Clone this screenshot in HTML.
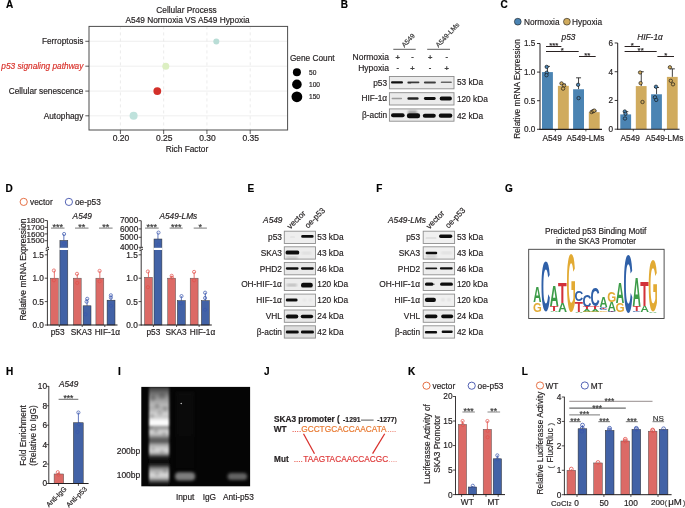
<!DOCTYPE html>
<html><head><meta charset="utf-8"><style>
html,body{margin:0;padding:0;background:#fff;}
svg{display:block;filter:blur(0.35px);}
text{font-family:"Liberation Sans",sans-serif;}
</style></head><body>
<svg width="685" height="508" viewBox="0 0 685 508">
<defs>
<filter id="blur1" x="-50%" y="-50%" width="200%" height="200%"><feGaussianBlur stdDeviation="0.6"/></filter>
<filter id="blur2" x="-50%" y="-50%" width="200%" height="200%"><feGaussianBlur stdDeviation="1.0"/></filter>
<filter id="blur3" x="-50%" y="-50%" width="200%" height="200%"><feGaussianBlur stdDeviation="1.6"/></filter>
</defs>
<rect width="685" height="508" fill="#fff"/>
<text x="5.9" y="7.8" font-size="10.0" text-anchor="start" font-weight="bold" fill="#000" stroke="#000" stroke-width="0.18" >A</text>
<text x="340.8" y="7.8" font-size="10.0" text-anchor="start" font-weight="bold" fill="#000" stroke="#000" stroke-width="0.18" >B</text>
<text x="500.6" y="7.8" font-size="10.0" text-anchor="start" font-weight="bold" fill="#000" stroke="#000" stroke-width="0.18" >C</text>
<text x="5.4" y="191.7" font-size="10.0" text-anchor="start" font-weight="bold" fill="#000" stroke="#000" stroke-width="0.18" >D</text>
<text x="247.5" y="191.7" font-size="10.0" text-anchor="start" font-weight="bold" fill="#000" stroke="#000" stroke-width="0.18" >E</text>
<text x="376.2" y="191.7" font-size="10.0" text-anchor="start" font-weight="bold" fill="#000" stroke="#000" stroke-width="0.18" >F</text>
<text x="504.9" y="191.7" font-size="10.0" text-anchor="start" font-weight="bold" fill="#000" stroke="#000" stroke-width="0.18" >G</text>
<text x="5.9" y="374.7" font-size="10.0" text-anchor="start" font-weight="bold" fill="#000" stroke="#000" stroke-width="0.18" >H</text>
<text x="117.9" y="374.7" font-size="10.0" text-anchor="start" font-weight="bold" fill="#000" stroke="#000" stroke-width="0.18" >I</text>
<text x="263.9" y="374.7" font-size="10.0" text-anchor="start" font-weight="bold" fill="#000" stroke="#000" stroke-width="0.18" >J</text>
<text x="408.0" y="374.7" font-size="10.0" text-anchor="start" font-weight="bold" fill="#000" stroke="#000" stroke-width="0.18" >K</text>
<text x="521.7" y="374.7" font-size="10.0" text-anchor="start" font-weight="bold" fill="#000" stroke="#000" stroke-width="0.18" >L</text>
<text x="186.5" y="13.3" font-size="8.3" text-anchor="middle" fill="#231f20" stroke="#231f20" stroke-width="0.18" >Cellular Process</text>
<text x="187.6" y="22.5" font-size="8.3" text-anchor="middle" fill="#231f20" stroke="#231f20" stroke-width="0.18" >A549 Normoxia VS A549 Hypoxia</text>
<rect x="89" y="26.4" width="198.6" height="103.6" fill="#fff" stroke="none" stroke-width="0.8" />
<line x1="89" y1="41.3" x2="287.6" y2="41.3" stroke="#ebebeb" stroke-width="0.8" />
<line x1="89" y1="66.2" x2="287.6" y2="66.2" stroke="#ebebeb" stroke-width="0.8" />
<line x1="89" y1="91.1" x2="287.6" y2="91.1" stroke="#ebebeb" stroke-width="0.8" />
<line x1="89" y1="115.8" x2="287.6" y2="115.8" stroke="#ebebeb" stroke-width="0.8" />
<line x1="120.4" y1="26.4" x2="120.4" y2="130" stroke="#e3e3e3" stroke-width="0.7" stroke-dasharray="3,3"/>
<line x1="163.665" y1="26.4" x2="163.665" y2="130" stroke="#e3e3e3" stroke-width="0.7" stroke-dasharray="3,3"/>
<line x1="206.92999999999998" y1="26.4" x2="206.92999999999998" y2="130" stroke="#e3e3e3" stroke-width="0.7" stroke-dasharray="3,3"/>
<line x1="250.19499999999996" y1="26.4" x2="250.19499999999996" y2="130" stroke="#e3e3e3" stroke-width="0.7" stroke-dasharray="3,3"/>
<rect x="89" y="26.4" width="198.6" height="103.6" fill="none" stroke="#4d4d4d" stroke-width="1.0" />
<line x1="85.3" y1="41.3" x2="89" y2="41.3" stroke="#333" stroke-width="0.8" />
<text x="83.4" y="44.199999999999996" font-size="8.3" text-anchor="end" fill="#231f20" stroke="#231f20" stroke-width="0.18" >Ferroptosis</text>
<line x1="85.3" y1="66.2" x2="89" y2="66.2" stroke="#333" stroke-width="0.8" />
<text x="83.4" y="69.10000000000001" font-size="8.3" text-anchor="end" font-style="italic" fill="#d9332c" stroke="#d9332c" stroke-width="0.18" >p53 signaling pathway</text>
<line x1="85.3" y1="91.1" x2="89" y2="91.1" stroke="#333" stroke-width="0.8" />
<text x="83.4" y="94.0" font-size="8.3" text-anchor="end" fill="#231f20" stroke="#231f20" stroke-width="0.18" >Cellular senescence</text>
<line x1="85.3" y1="115.8" x2="89" y2="115.8" stroke="#333" stroke-width="0.8" />
<text x="83.4" y="118.7" font-size="8.3" text-anchor="end" fill="#231f20" stroke="#231f20" stroke-width="0.18" >Autophagy</text>
<line x1="120.4" y1="130" x2="120.4" y2="134" stroke="#333" stroke-width="0.8" />
<text x="121.0" y="141.0" font-size="8.5" text-anchor="middle" fill="#231f20" stroke="#231f20" stroke-width="0.18" >0.20</text>
<line x1="163.665" y1="130" x2="163.665" y2="134" stroke="#333" stroke-width="0.8" />
<text x="164.265" y="141.0" font-size="8.5" text-anchor="middle" fill="#231f20" stroke="#231f20" stroke-width="0.18" >0.25</text>
<line x1="206.92999999999998" y1="130" x2="206.92999999999998" y2="134" stroke="#333" stroke-width="0.8" />
<text x="207.52999999999997" y="141.0" font-size="8.5" text-anchor="middle" fill="#231f20" stroke="#231f20" stroke-width="0.18" >0.30</text>
<line x1="250.19499999999996" y1="130" x2="250.19499999999996" y2="134" stroke="#333" stroke-width="0.8" />
<text x="250.79499999999996" y="141.0" font-size="8.5" text-anchor="middle" fill="#231f20" stroke="#231f20" stroke-width="0.18" >0.35</text>
<text x="187" y="151.7" font-size="8.3" text-anchor="middle" fill="#231f20" stroke="#231f20" stroke-width="0.18" >Rich Factor</text>
<circle cx="216.3" cy="41.4" r="3.0" fill="#b9ddd6" stroke="none" stroke-width="0.8" />
<circle cx="165.8" cy="66.2" r="3.5" fill="#dcefc2" stroke="none" stroke-width="0.8" />
<circle cx="157.3" cy="91.1" r="3.9" fill="#d3302a" stroke="none" stroke-width="0.8" />
<circle cx="133.6" cy="115.8" r="4.0" fill="#bfe2dc" stroke="none" stroke-width="0.8" />
<text x="289.9" y="61.4" font-size="8.3" text-anchor="start" fill="#231f20" stroke="#231f20" stroke-width="0.18" >Gene Count</text>
<circle cx="296.9" cy="72.2" r="4.0" fill="#000" stroke="none" stroke-width="0.8" />
<text x="309" y="74.8" font-size="6.6" text-anchor="start" fill="#231f20" stroke="#231f20" stroke-width="0.18" >50</text>
<circle cx="296.9" cy="84.4" r="4.8" fill="#000" stroke="none" stroke-width="0.8" />
<text x="309" y="87.0" font-size="6.6" text-anchor="start" fill="#231f20" stroke="#231f20" stroke-width="0.18" >100</text>
<circle cx="296.9" cy="96.8" r="5.4" fill="#000" stroke="none" stroke-width="0.8" />
<text x="309" y="99.39999999999999" font-size="6.6" text-anchor="start" fill="#231f20" stroke="#231f20" stroke-width="0.18" >150</text>
<line x1="393.3" y1="49.3" x2="415.7" y2="49.3" stroke="#4a4a4a" stroke-width="0.9" />
<line x1="427.2" y1="49.3" x2="450" y2="49.3" stroke="#4a4a4a" stroke-width="0.9" />
<text transform="translate(404.4,47.8) rotate(-47)" font-size="6.8" text-anchor="start" fill="#333" stroke="#333" stroke-width="0.18">A549</text>
<text transform="translate(438.6,47.8) rotate(-47)" font-size="6.8" text-anchor="start" fill="#333" stroke="#333" stroke-width="0.18">A549-LMs</text>
<text x="388.9" y="59.7" font-size="8.5" text-anchor="end" fill="#231f20" stroke="#231f20" stroke-width="0.18" >Normoxia</text>
<text x="388.9" y="71.4" font-size="8.5" text-anchor="end" fill="#231f20" stroke="#231f20" stroke-width="0.18" >Hypoxia</text>
<text x="397.7" y="59.6" font-size="7.5" text-anchor="middle" font-weight="bold" fill="#444" stroke="#444" stroke-width="0.18" >+</text>
<text x="412.4" y="58.5" font-size="7.5" text-anchor="middle" font-weight="bold" fill="#444" stroke="#444" stroke-width="0.18" >-</text>
<text x="430.1" y="59.6" font-size="7.5" text-anchor="middle" font-weight="bold" fill="#444" stroke="#444" stroke-width="0.18" >+</text>
<text x="446.7" y="58.5" font-size="7.5" text-anchor="middle" font-weight="bold" fill="#444" stroke="#444" stroke-width="0.18" >-</text>
<text x="397.7" y="70.3" font-size="7.5" text-anchor="middle" font-weight="bold" fill="#444" stroke="#444" stroke-width="0.18" >-</text>
<text x="412.4" y="71.4" font-size="7.5" text-anchor="middle" font-weight="bold" fill="#444" stroke="#444" stroke-width="0.18" >+</text>
<text x="430.1" y="70.3" font-size="7.5" text-anchor="middle" font-weight="bold" fill="#444" stroke="#444" stroke-width="0.18" >-</text>
<text x="446.7" y="71.4" font-size="7.5" text-anchor="middle" font-weight="bold" fill="#444" stroke="#444" stroke-width="0.18" >+</text>
<rect x="389.4" y="76.5" width="64.6" height="12.3" fill="#ebebeb" stroke="#8c8c8c" stroke-width="0.9" />
<text x="387.1" y="85.7" font-size="8.3" text-anchor="end" fill="#231f20" stroke="#231f20" stroke-width="0.18" >p53</text>
<text x="456.9" y="85.4" font-size="8.3" text-anchor="start" fill="#231f20" stroke="#231f20" stroke-width="0.18" >53 kDa</text>
<rect x="389.4" y="92.7" width="64.6" height="12.3" fill="#ebebeb" stroke="#8c8c8c" stroke-width="0.9" />
<text x="387.1" y="100.7" font-size="8.3" text-anchor="end" fill="#231f20" stroke="#231f20" stroke-width="0.18" >HIF-1α</text>
<text x="456.9" y="102.4" font-size="8.3" text-anchor="start" fill="#231f20" stroke="#231f20" stroke-width="0.18" >120 kDa</text>
<rect x="389.4" y="108.9" width="64.6" height="12.3" fill="#ebebeb" stroke="#8c8c8c" stroke-width="0.9" />
<text x="387.1" y="118.30000000000001" font-size="8.3" text-anchor="end" fill="#231f20" stroke="#231f20" stroke-width="0.18" >β-actin</text>
<text x="456.9" y="118.5" font-size="8.3" text-anchor="start" fill="#231f20" stroke="#231f20" stroke-width="0.18" >42 kDa</text>
<rect x="391.0" y="81.3" width="12.0" height="2.3" rx="1.1" fill="#111" opacity="1.0" filter="url(#blur1)"/>
<rect x="407.4" y="81.6" width="12.0" height="1.7" rx="0.8" fill="#111" opacity="0.8" filter="url(#blur1)"/>
<rect x="407.6" y="82.4" width="3.5" height="1.2" rx="0.5" fill="#111" opacity="0.7" filter="url(#blur1)"/>
<rect x="423.9" y="81.4" width="12.0" height="2.0" rx="1" fill="#111" opacity="0.78" filter="url(#blur1)"/>
<rect x="440.8" y="81.6" width="11.0" height="1.5" rx="0.7" fill="#111" opacity="0.6" filter="url(#blur1)"/>
<rect x="391.6" y="97.8" width="10.5" height="1.4" rx="0.7" fill="#111" opacity="0.35" filter="url(#blur1)"/>
<rect x="407.4" y="97.2" width="11.2" height="2.5" rx="1.2" fill="#111" opacity="0.9" filter="url(#blur1)"/>
<rect x="423.9" y="97.0" width="11.8" height="2.9" rx="1.4" fill="#111" opacity="1.0" filter="url(#blur1)"/>
<rect x="439.7" y="96.6" width="12.2" height="3.9" rx="1.8" fill="#111" opacity="1.0" filter="url(#blur1)"/>
<rect x="391.0" y="113.3" width="13.6" height="4.0" rx="2" fill="#111" opacity="1.0" filter="url(#blur1)"/>
<rect x="406.9" y="113.3" width="13.2" height="5.0" rx="2.2" fill="#111" opacity="1.0" filter="url(#blur1)"/>
<rect x="408.0" y="110.9" width="9.0" height="2.5" rx="1" fill="#111" opacity="0.45" filter="url(#blur2)"/>
<rect x="422.8" y="113.7" width="13.0" height="4.0" rx="2" fill="#111" opacity="1.0" filter="url(#blur1)"/>
<rect x="438.8" y="113.5" width="13.5" height="4.3" rx="2" fill="#111" opacity="1.0" filter="url(#blur1)"/>
<circle cx="517.8" cy="21.7" r="3.4" fill="#4b84b3" stroke="#1a1a1a" stroke-width="0.6" />
<text x="524" y="24.9" font-size="8.3" text-anchor="start" fill="#231f20" stroke="#231f20" stroke-width="0.18" >Normoxia</text>
<circle cx="566.9" cy="21.7" r="3.4" fill="#d0ab5e" stroke="#1a1a1a" stroke-width="0.6" />
<text x="572.1" y="24.9" font-size="8.3" text-anchor="start" fill="#231f20" stroke="#231f20" stroke-width="0.18" >Hypoxia</text>
<text transform="translate(519.6,89) rotate(-90)" font-size="8.3" text-anchor="middle" fill="#231f20" stroke="#231f20" stroke-width="0.18">Relative mRNA Expression</text>
<text x="568.5" y="39.8" font-size="8.3" text-anchor="middle" font-style="italic" fill="#231f20" stroke="#231f20" stroke-width="0.18" >p53</text>
<line x1="547.45" y1="72.10000000000001" x2="547.45" y2="66.38" stroke="#111" stroke-width="0.8" />
<line x1="544.95" y1="66.38" x2="549.95" y2="66.38" stroke="#111" stroke-width="0.8" />
<rect x="542" y="72.10000000000001" width="10.9" height="57.2" fill="#4b84b3" stroke="none" stroke-width="0.8" />
<line x1="563.35" y1="85.828" x2="563.35" y2="84.11200000000001" stroke="#111" stroke-width="0.8" />
<line x1="560.85" y1="84.11200000000001" x2="565.85" y2="84.11200000000001" stroke="#111" stroke-width="0.8" />
<rect x="557.9" y="85.828" width="10.9" height="43.47200000000001" fill="#d0ab5e" stroke="none" stroke-width="0.8" />
<line x1="578.5500000000001" y1="89.26000000000002" x2="578.5500000000001" y2="77.82000000000001" stroke="#111" stroke-width="0.8" />
<line x1="576.0500000000001" y1="77.82000000000001" x2="581.0500000000001" y2="77.82000000000001" stroke="#111" stroke-width="0.8" />
<rect x="573.1" y="89.26000000000002" width="10.9" height="40.03999999999999" fill="#4b84b3" stroke="none" stroke-width="0.8" />
<line x1="594.25" y1="112.14000000000001" x2="594.25" y2="110.99600000000001" stroke="#111" stroke-width="0.8" />
<line x1="591.75" y1="110.99600000000001" x2="596.75" y2="110.99600000000001" stroke="#111" stroke-width="0.8" />
<rect x="588.8" y="112.14000000000001" width="10.9" height="17.159999999999997" fill="#d0ab5e" stroke="none" stroke-width="0.8" />
<line x1="540" y1="43.5" x2="540" y2="129.9" stroke="#231f20" stroke-width="1.0" />
<line x1="539.5" y1="129.4" x2="602" y2="129.4" stroke="#231f20" stroke-width="1.1" />
<line x1="537" y1="43.5" x2="540" y2="43.5" stroke="#231f20" stroke-width="0.9" />
<text x="535.3" y="46.4" font-size="8.2" text-anchor="end" fill="#231f20" stroke="#231f20" stroke-width="0.18" >1.5</text>
<line x1="537" y1="72.10000000000001" x2="540" y2="72.10000000000001" stroke="#231f20" stroke-width="0.9" />
<text x="535.3" y="75.00000000000001" font-size="8.2" text-anchor="end" fill="#231f20" stroke="#231f20" stroke-width="0.18" >1.0</text>
<line x1="537" y1="100.70000000000002" x2="540" y2="100.70000000000002" stroke="#231f20" stroke-width="0.9" />
<text x="535.3" y="103.60000000000002" font-size="8.2" text-anchor="end" fill="#231f20" stroke="#231f20" stroke-width="0.18" >0.5</text>
<line x1="537" y1="129.3" x2="540" y2="129.3" stroke="#231f20" stroke-width="0.9" />
<text x="535.3" y="132.20000000000002" font-size="8.2" text-anchor="end" fill="#231f20" stroke="#231f20" stroke-width="0.18" >0.0</text>
<line x1="555.3" y1="129.4" x2="555.3" y2="131.4" stroke="#231f20" stroke-width="0.8" />
<line x1="585.9" y1="129.4" x2="585.9" y2="131.4" stroke="#231f20" stroke-width="0.8" />
<text x="552.1" y="141.0" font-size="8.3" text-anchor="middle" fill="#231f20" stroke="#231f20" stroke-width="0.18" >A549</text>
<text x="585.5" y="141.0" font-size="8.3" text-anchor="middle" fill="#231f20" stroke="#231f20" stroke-width="0.18" >A549-LMs</text>
<circle cx="546.7" cy="66.9" r="1.7" fill="#4b84b3" stroke="#111" stroke-width="0.65" />
<circle cx="546.7" cy="72.7" r="1.7" fill="#4b84b3" stroke="#111" stroke-width="0.65" />
<circle cx="546.5" cy="75.2" r="1.7" fill="#4b84b3" stroke="#111" stroke-width="0.65" />
<circle cx="561.5" cy="83.4" r="1.7" fill="#d0ab5e" stroke="#111" stroke-width="0.65" />
<circle cx="564.1" cy="85.5" r="1.7" fill="#d0ab5e" stroke="#111" stroke-width="0.65" />
<circle cx="563.1" cy="88.6" r="1.7" fill="#d0ab5e" stroke="#111" stroke-width="0.65" />
<circle cx="578.1" cy="84.8" r="1.7" fill="#4b84b3" stroke="#111" stroke-width="0.65" />
<circle cx="578.6" cy="98.1" r="1.7" fill="#4b84b3" stroke="#111" stroke-width="0.65" />
<circle cx="591.6" cy="112" r="1.7" fill="#d0ab5e" stroke="#111" stroke-width="0.65" />
<circle cx="593.2" cy="111.1" r="1.7" fill="#d0ab5e" stroke="#111" stroke-width="0.65" />
<circle cx="594.3" cy="110.6" r="1.7" fill="#d0ab5e" stroke="#111" stroke-width="0.65" />
<line x1="546" y1="46.5" x2="561.4" y2="46.5" stroke="#2a2222" stroke-width="1.0" />
<text x="553.7" y="47.6" font-size="7.8" text-anchor="middle" fill="#231f20" stroke="#231f20" stroke-width="0.18" >***</text>
<line x1="546" y1="51.5" x2="578.7" y2="51.5" stroke="#2a2222" stroke-width="1.0" />
<text x="562.35" y="52.6" font-size="7.8" text-anchor="middle" fill="#231f20" stroke="#231f20" stroke-width="0.18" >*</text>
<line x1="579" y1="56.5" x2="595.7" y2="56.5" stroke="#2a2222" stroke-width="1.0" />
<text x="587.35" y="57.6" font-size="7.8" text-anchor="middle" fill="#231f20" stroke="#231f20" stroke-width="0.18" >**</text>
<text x="650" y="39.8" font-size="8.3" text-anchor="middle" font-style="italic" fill="#231f20" stroke="#231f20" stroke-width="0.18" >HIF-1<tspan font-style="italic">α</tspan></text>
<line x1="625.75" y1="114.39889999999998" x2="625.75" y2="111.6686" stroke="#111" stroke-width="0.8" />
<line x1="623.25" y1="111.6686" x2="628.25" y2="111.6686" stroke="#111" stroke-width="0.8" />
<rect x="620.3" y="114.39889999999998" width="10.8" height="14.801100000000005" fill="#4b84b3" stroke="none" stroke-width="0.8" />
<line x1="641.25" y1="86.08999999999999" x2="641.25" y2="71.72" stroke="#111" stroke-width="0.8" />
<line x1="638.75" y1="71.72" x2="643.75" y2="71.72" stroke="#111" stroke-width="0.8" />
<rect x="635.8" y="86.08999999999999" width="10.8" height="43.11" fill="#d0ab5e" stroke="none" stroke-width="0.8" />
<line x1="656.5500000000001" y1="94.28089999999999" x2="656.5500000000001" y2="87.52699999999999" stroke="#111" stroke-width="0.8" />
<line x1="654.0500000000001" y1="87.52699999999999" x2="659.0500000000001" y2="87.52699999999999" stroke="#111" stroke-width="0.8" />
<rect x="651.1" y="94.28089999999999" width="10.8" height="34.9191" fill="#4b84b3" stroke="none" stroke-width="0.8" />
<line x1="672.35" y1="76.8932" x2="672.35" y2="68.84599999999999" stroke="#111" stroke-width="0.8" />
<line x1="669.85" y1="68.84599999999999" x2="674.85" y2="68.84599999999999" stroke="#111" stroke-width="0.8" />
<rect x="666.9" y="76.8932" width="10.8" height="52.306799999999996" fill="#d0ab5e" stroke="none" stroke-width="0.8" />
<line x1="617.7" y1="43" x2="617.7" y2="129.8" stroke="#231f20" stroke-width="1.0" />
<line x1="617.2" y1="129.3" x2="679.5" y2="129.3" stroke="#231f20" stroke-width="1.1" />
<line x1="614.7" y1="42.97999999999999" x2="617.7" y2="42.97999999999999" stroke="#231f20" stroke-width="0.9" />
<text x="613" y="45.87999999999999" font-size="8.2" text-anchor="end" fill="#231f20" stroke="#231f20" stroke-width="0.18" >6</text>
<line x1="614.7" y1="71.72" x2="617.7" y2="71.72" stroke="#231f20" stroke-width="0.9" />
<text x="613" y="74.62" font-size="8.2" text-anchor="end" fill="#231f20" stroke="#231f20" stroke-width="0.18" >4</text>
<line x1="614.7" y1="100.46" x2="617.7" y2="100.46" stroke="#231f20" stroke-width="0.9" />
<text x="613" y="103.36" font-size="8.2" text-anchor="end" fill="#231f20" stroke="#231f20" stroke-width="0.18" >2</text>
<line x1="614.7" y1="129.2" x2="617.7" y2="129.2" stroke="#231f20" stroke-width="0.9" />
<text x="613" y="132.1" font-size="8.2" text-anchor="end" fill="#231f20" stroke="#231f20" stroke-width="0.18" >0</text>
<line x1="633.3" y1="129.3" x2="633.3" y2="131.3" stroke="#231f20" stroke-width="0.8" />
<line x1="664.3" y1="129.3" x2="664.3" y2="131.3" stroke="#231f20" stroke-width="0.8" />
<text x="630.2" y="141.0" font-size="8.3" text-anchor="middle" fill="#231f20" stroke="#231f20" stroke-width="0.18" >A549</text>
<text x="664.4" y="141.0" font-size="8.3" text-anchor="middle" fill="#231f20" stroke="#231f20" stroke-width="0.18" >A549-LMs</text>
<circle cx="624.8" cy="111.5" r="1.7" fill="#4b84b3" stroke="#111" stroke-width="0.65" />
<circle cx="625.5" cy="113.8" r="1.7" fill="#4b84b3" stroke="#111" stroke-width="0.65" />
<circle cx="625" cy="118.5" r="1.7" fill="#4b84b3" stroke="#111" stroke-width="0.65" />
<circle cx="640.1" cy="72.5" r="1.7" fill="#d0ab5e" stroke="#111" stroke-width="0.65" />
<circle cx="640.6" cy="83.1" r="1.7" fill="#d0ab5e" stroke="#111" stroke-width="0.65" />
<circle cx="642.5" cy="102" r="1.7" fill="#d0ab5e" stroke="#111" stroke-width="0.65" />
<circle cx="656" cy="86.7" r="1.7" fill="#4b84b3" stroke="#111" stroke-width="0.65" />
<circle cx="655" cy="97.3" r="1.7" fill="#4b84b3" stroke="#111" stroke-width="0.65" />
<circle cx="656.2" cy="99.9" r="1.7" fill="#4b84b3" stroke="#111" stroke-width="0.65" />
<circle cx="669.9" cy="67.3" r="1.7" fill="#d0ab5e" stroke="#111" stroke-width="0.65" />
<circle cx="670.8" cy="80.8" r="1.7" fill="#d0ab5e" stroke="#111" stroke-width="0.65" />
<circle cx="673" cy="84.3" r="1.7" fill="#d0ab5e" stroke="#111" stroke-width="0.65" />
<line x1="624.6" y1="46.5" x2="640" y2="46.5" stroke="#2a2222" stroke-width="1.0" />
<text x="632.3" y="47.6" font-size="7.8" text-anchor="middle" fill="#231f20" stroke="#231f20" stroke-width="0.18" >*</text>
<line x1="624.6" y1="51.5" x2="656.7" y2="51.5" stroke="#2a2222" stroke-width="1.0" />
<text x="640.6500000000001" y="52.6" font-size="7.8" text-anchor="middle" fill="#231f20" stroke="#231f20" stroke-width="0.18" >**</text>
<line x1="657.4" y1="56.5" x2="674" y2="56.5" stroke="#2a2222" stroke-width="1.0" />
<text x="665.7" y="57.6" font-size="7.8" text-anchor="middle" fill="#231f20" stroke="#231f20" stroke-width="0.18" >*</text>
<circle cx="23.7" cy="201.9" r="3.6" fill="none" stroke="#e4693c" stroke-width="0.95" />
<text x="30.1" y="204.6" font-size="8.3" text-anchor="start" fill="#231f20" stroke="#231f20" stroke-width="0.18" >vector</text>
<circle cx="68.9" cy="201.9" r="3.6" fill="none" stroke="#4b5bb0" stroke-width="0.95" />
<text x="75" y="204.6" font-size="8.3" text-anchor="start" fill="#231f20" stroke="#231f20" stroke-width="0.18" >oe-p53</text>
<text transform="translate(26,269.6) rotate(-90)" font-size="8.5" text-anchor="middle" fill="#231f20" stroke="#231f20" stroke-width="0.18">Relative mRNA Expression</text>
<text x="82.3" y="218.9" font-size="8.3" text-anchor="middle" font-style="italic" fill="#231f20" stroke="#231f20" stroke-width="0.18" >A549</text>
<line x1="54.35" y1="278.2" x2="54.35" y2="270.5" stroke="#e2504b" stroke-width="0.8" />
<rect x="50.4" y="278.2" width="7.9" height="46.80000000000001" fill="#dc6a66" stroke="#555" stroke-width="0.5" />
<circle cx="53.9" cy="270.5" r="1.6" fill="none" stroke="#e2504b" stroke-width="0.7" />
<circle cx="53.9" cy="280.3" r="1.6" fill="none" stroke="#e2504b" stroke-width="0.7" />
<line x1="63.85" y1="240.4" x2="63.85" y2="234.0" stroke="#3a56ad" stroke-width="0.8" />
<rect x="59.9" y="240.4" width="7.9" height="84.6" fill="#4262a6" stroke="#333" stroke-width="0.5" />
<rect x="59.4" y="247.8" width="8.9" height="2.2" fill="#fff" stroke="none" stroke-width="0.8" />
<circle cx="64.1" cy="234.0" r="1.6" fill="none" stroke="#3a56ad" stroke-width="0.7" />
<circle cx="64.1" cy="243.5" r="1.6" fill="none" stroke="#3a56ad" stroke-width="0.7" />
<line x1="77.25" y1="278.2" x2="77.25" y2="273.8" stroke="#e2504b" stroke-width="0.8" />
<rect x="73.3" y="278.2" width="7.9" height="46.80000000000001" fill="#dc6a66" stroke="#555" stroke-width="0.5" />
<circle cx="77.0" cy="273.8" r="1.6" fill="none" stroke="#e2504b" stroke-width="0.7" />
<circle cx="77.2" cy="282.9" r="1.6" fill="none" stroke="#e2504b" stroke-width="0.7" />
<line x1="87.05" y1="305.812" x2="87.05" y2="298.8" stroke="#3a56ad" stroke-width="0.8" />
<rect x="83.1" y="305.812" width="7.9" height="19.187999999999988" fill="#4262a6" stroke="#2a2a2a" stroke-width="0.5" />
<circle cx="87.2" cy="298.8" r="1.6" fill="none" stroke="#3a56ad" stroke-width="0.7" />
<circle cx="86.6" cy="301.7" r="1.6" fill="none" stroke="#3a56ad" stroke-width="0.7" />
<circle cx="85.5" cy="314.3" r="1.6" fill="none" stroke="#3a56ad" stroke-width="0.7" />
<line x1="99.85000000000001" y1="278.2" x2="99.85000000000001" y2="270.9" stroke="#e2504b" stroke-width="0.8" />
<rect x="95.9" y="278.2" width="7.9" height="46.80000000000001" fill="#dc6a66" stroke="#555" stroke-width="0.5" />
<circle cx="99.6" cy="270.9" r="1.6" fill="none" stroke="#e2504b" stroke-width="0.7" />
<circle cx="99.6" cy="281.3" r="1.6" fill="none" stroke="#e2504b" stroke-width="0.7" />
<line x1="111.05" y1="300.196" x2="111.05" y2="295.3" stroke="#3a56ad" stroke-width="0.8" />
<rect x="107.1" y="300.196" width="7.9" height="24.803999999999974" fill="#4262a6" stroke="#2a2a2a" stroke-width="0.5" />
<circle cx="110.9" cy="295.3" r="1.6" fill="none" stroke="#3a56ad" stroke-width="0.7" />
<circle cx="110.9" cy="297.6" r="1.6" fill="none" stroke="#3a56ad" stroke-width="0.7" />
<circle cx="110.9" cy="305.8" r="1.6" fill="none" stroke="#3a56ad" stroke-width="0.7" />
<line x1="47.4" y1="220.5" x2="47.4" y2="247.3" stroke="#231f20" stroke-width="0.9" />
<line x1="47.4" y1="250.3" x2="47.4" y2="325.5" stroke="#231f20" stroke-width="0.9" />
<line x1="47.0" y1="325" x2="117.5" y2="325" stroke="#231f20" stroke-width="1.0" />
<path d="M45.8,249.0 L49.0,247.5 M45.8,250.70000000000002 L49.0,249.20000000000002" stroke="#231f20" stroke-width="0.8" fill="none"/>
<rect x="46.6" y="248.20000000000002" width="1.6" height="1.4" fill="#fff" stroke="none" stroke-width="0.8" />
<path d="M45.8,248.3 L49.0,247.10000000000002 M45.8,250.5 L49.0,249.3" stroke="#231f20" stroke-width="0.7" fill="none"/>
<line x1="44.8" y1="220.5" x2="47.4" y2="220.5" stroke="#231f20" stroke-width="0.8" />
<text x="44.4" y="223.2" font-size="8.1" text-anchor="end" fill="#231f20" stroke="#231f20" stroke-width="0.18" >1800</text>
<line x1="44.8" y1="227.4" x2="47.4" y2="227.4" stroke="#231f20" stroke-width="0.8" />
<text x="44.4" y="230.1" font-size="8.1" text-anchor="end" fill="#231f20" stroke="#231f20" stroke-width="0.18" >1700</text>
<line x1="44.8" y1="233.9" x2="47.4" y2="233.9" stroke="#231f20" stroke-width="0.8" />
<text x="44.4" y="236.6" font-size="8.1" text-anchor="end" fill="#231f20" stroke="#231f20" stroke-width="0.18" >1600</text>
<line x1="44.8" y1="240.7" x2="47.4" y2="240.7" stroke="#231f20" stroke-width="0.8" />
<text x="44.4" y="243.39999999999998" font-size="8.1" text-anchor="end" fill="#231f20" stroke="#231f20" stroke-width="0.18" >1500</text>
<line x1="44.8" y1="254.8" x2="47.4" y2="254.8" stroke="#231f20" stroke-width="0.8" />
<text x="44.0" y="257.7" font-size="8.3" text-anchor="end" fill="#231f20" stroke="#231f20" stroke-width="0.18" >1.5</text>
<line x1="44.8" y1="278.2" x2="47.4" y2="278.2" stroke="#231f20" stroke-width="0.8" />
<text x="44.0" y="281.09999999999997" font-size="8.3" text-anchor="end" fill="#231f20" stroke="#231f20" stroke-width="0.18" >1.0</text>
<line x1="44.8" y1="301.6" x2="47.4" y2="301.6" stroke="#231f20" stroke-width="0.8" />
<text x="44.0" y="304.5" font-size="8.3" text-anchor="end" fill="#231f20" stroke="#231f20" stroke-width="0.18" >0.5</text>
<line x1="44.8" y1="325.0" x2="47.4" y2="325.0" stroke="#231f20" stroke-width="0.8" />
<text x="44.0" y="327.9" font-size="8.3" text-anchor="end" fill="#231f20" stroke="#231f20" stroke-width="0.18" >0.0</text>
<line x1="59.3" y1="325" x2="59.3" y2="327" stroke="#231f20" stroke-width="0.8" />
<line x1="82.2" y1="325" x2="82.2" y2="327" stroke="#231f20" stroke-width="0.8" />
<line x1="104.80000000000001" y1="325" x2="104.80000000000001" y2="327" stroke="#231f20" stroke-width="0.8" />
<line x1="51" y1="228.1" x2="64.5" y2="228.1" stroke="#6b6b6b" stroke-width="0.9" />
<text x="57.75" y="230.0" font-size="9" text-anchor="middle" fill="#3a3a3a" stroke="#3a3a3a" stroke-width="0.18" >***</text>
<line x1="75" y1="228.1" x2="88.5" y2="228.1" stroke="#6b6b6b" stroke-width="0.9" />
<text x="81.75" y="230.0" font-size="9" text-anchor="middle" fill="#3a3a3a" stroke="#3a3a3a" stroke-width="0.18" >**</text>
<line x1="99" y1="228.1" x2="112.6" y2="228.1" stroke="#6b6b6b" stroke-width="0.9" />
<text x="105.8" y="230.0" font-size="9" text-anchor="middle" fill="#3a3a3a" stroke="#3a3a3a" stroke-width="0.18" >**</text>
<text x="57.6" y="335" font-size="8.3" text-anchor="middle" fill="#231f20" stroke="#231f20" stroke-width="0.18" >p53</text>
<text x="81.3" y="335" font-size="8.3" text-anchor="middle" fill="#231f20" stroke="#231f20" stroke-width="0.18" >SKA3</text>
<text x="107.4" y="335" font-size="8.3" text-anchor="middle" fill="#231f20" stroke="#231f20" stroke-width="0.18" >HIF-1α</text>
<text x="178.3" y="218.9" font-size="8.3" text-anchor="middle" font-style="italic" fill="#231f20" stroke="#231f20" stroke-width="0.18" >A549-LMs</text>
<line x1="148.45" y1="277.264" x2="148.45" y2="271.5" stroke="#e2504b" stroke-width="0.8" />
<rect x="144.5" y="277.264" width="7.9" height="47.73599999999999" fill="#dc6a66" stroke="#555" stroke-width="0.5" />
<circle cx="147.9" cy="271.5" r="1.6" fill="none" stroke="#e2504b" stroke-width="0.7" />
<circle cx="147.9" cy="287.2" r="1.6" fill="none" stroke="#e2504b" stroke-width="0.7" />
<line x1="157.95" y1="239.0" x2="157.95" y2="232.6" stroke="#3a56ad" stroke-width="0.8" />
<rect x="154.0" y="239.0" width="7.9" height="86.0" fill="#4262a6" stroke="#333" stroke-width="0.5" />
<rect x="153.5" y="247.8" width="8.9" height="2.2" fill="#fff" stroke="none" stroke-width="0.8" />
<circle cx="158.5" cy="232.6" r="1.6" fill="none" stroke="#3a56ad" stroke-width="0.7" />
<circle cx="158.5" cy="244.5" r="1.6" fill="none" stroke="#3a56ad" stroke-width="0.7" />
<line x1="171.64999999999998" y1="278.2" x2="171.64999999999998" y2="275.8" stroke="#e2504b" stroke-width="0.8" />
<rect x="167.7" y="278.2" width="7.9" height="46.80000000000001" fill="#dc6a66" stroke="#555" stroke-width="0.5" />
<circle cx="171.7" cy="275.8" r="1.6" fill="none" stroke="#e2504b" stroke-width="0.7" />
<circle cx="171.9" cy="277.8" r="1.6" fill="none" stroke="#e2504b" stroke-width="0.7" />
<line x1="181.35" y1="300.664" x2="181.35" y2="296.1" stroke="#3a56ad" stroke-width="0.8" />
<rect x="177.4" y="300.664" width="7.9" height="24.336000000000013" fill="#4262a6" stroke="#2a2a2a" stroke-width="0.5" />
<circle cx="181.5" cy="296.1" r="1.6" fill="none" stroke="#3a56ad" stroke-width="0.7" />
<circle cx="180.9" cy="303.3" r="1.6" fill="none" stroke="#3a56ad" stroke-width="0.7" />
<line x1="194.14999999999998" y1="278.2" x2="194.14999999999998" y2="271.9" stroke="#e2504b" stroke-width="0.8" />
<rect x="190.2" y="278.2" width="7.9" height="46.80000000000001" fill="#dc6a66" stroke="#555" stroke-width="0.5" />
<circle cx="194.1" cy="271.9" r="1.6" fill="none" stroke="#e2504b" stroke-width="0.7" />
<circle cx="194.1" cy="280.3" r="1.6" fill="none" stroke="#e2504b" stroke-width="0.7" />
<line x1="205.35" y1="300.664" x2="205.35" y2="292.7" stroke="#3a56ad" stroke-width="0.8" />
<rect x="201.4" y="300.664" width="7.9" height="24.336000000000013" fill="#4262a6" stroke="#2a2a2a" stroke-width="0.5" />
<circle cx="205.1" cy="292.7" r="1.6" fill="none" stroke="#3a56ad" stroke-width="0.7" />
<circle cx="205.1" cy="298" r="1.6" fill="none" stroke="#3a56ad" stroke-width="0.7" />
<circle cx="205.1" cy="309.8" r="1.6" fill="none" stroke="#3a56ad" stroke-width="0.7" />
<line x1="141.2" y1="220.7" x2="141.2" y2="247.3" stroke="#231f20" stroke-width="0.9" />
<line x1="141.2" y1="250.3" x2="141.2" y2="325.5" stroke="#231f20" stroke-width="0.9" />
<line x1="140.79999999999998" y1="325" x2="211.8" y2="325" stroke="#231f20" stroke-width="1.0" />
<path d="M139.6,249.0 L142.79999999999998,247.5 M139.6,250.70000000000002 L142.79999999999998,249.20000000000002" stroke="#231f20" stroke-width="0.8" fill="none"/>
<rect x="140.39999999999998" y="248.20000000000002" width="1.6" height="1.4" fill="#fff" stroke="none" stroke-width="0.8" />
<path d="M139.6,248.3 L142.79999999999998,247.10000000000002 M139.6,250.5 L142.79999999999998,249.3" stroke="#231f20" stroke-width="0.7" fill="none"/>
<line x1="138.6" y1="220.7" x2="141.2" y2="220.7" stroke="#231f20" stroke-width="0.8" />
<text x="138.2" y="223.39999999999998" font-size="8.2" text-anchor="end" fill="#231f20" stroke="#231f20" stroke-width="0.18" >7000</text>
<line x1="138.6" y1="228.9" x2="141.2" y2="228.9" stroke="#231f20" stroke-width="0.8" />
<text x="138.2" y="231.6" font-size="8.2" text-anchor="end" fill="#231f20" stroke="#231f20" stroke-width="0.18" >6000</text>
<line x1="138.6" y1="237.3" x2="141.2" y2="237.3" stroke="#231f20" stroke-width="0.8" />
<text x="138.2" y="240.0" font-size="8.2" text-anchor="end" fill="#231f20" stroke="#231f20" stroke-width="0.18" >5000</text>
<line x1="138.6" y1="247.3" x2="141.2" y2="247.3" stroke="#231f20" stroke-width="0.8" />
<text x="138.2" y="250.0" font-size="8.2" text-anchor="end" fill="#231f20" stroke="#231f20" stroke-width="0.18" >4000</text>
<line x1="138.6" y1="254.8" x2="141.2" y2="254.8" stroke="#231f20" stroke-width="0.8" />
<text x="137.79999999999998" y="257.7" font-size="8.3" text-anchor="end" fill="#231f20" stroke="#231f20" stroke-width="0.18" >1.5</text>
<line x1="138.6" y1="278.2" x2="141.2" y2="278.2" stroke="#231f20" stroke-width="0.8" />
<text x="137.79999999999998" y="281.09999999999997" font-size="8.3" text-anchor="end" fill="#231f20" stroke="#231f20" stroke-width="0.18" >1.0</text>
<line x1="138.6" y1="301.6" x2="141.2" y2="301.6" stroke="#231f20" stroke-width="0.8" />
<text x="137.79999999999998" y="304.5" font-size="8.3" text-anchor="end" fill="#231f20" stroke="#231f20" stroke-width="0.18" >0.5</text>
<line x1="138.6" y1="325.0" x2="141.2" y2="325.0" stroke="#231f20" stroke-width="0.8" />
<text x="137.79999999999998" y="327.9" font-size="8.3" text-anchor="end" fill="#231f20" stroke="#231f20" stroke-width="0.18" >0.0</text>
<line x1="153.4" y1="325" x2="153.4" y2="327" stroke="#231f20" stroke-width="0.8" />
<line x1="176.6" y1="325" x2="176.6" y2="327" stroke="#231f20" stroke-width="0.8" />
<line x1="199.1" y1="325" x2="199.1" y2="327" stroke="#231f20" stroke-width="0.8" />
<line x1="145" y1="228.1" x2="158.7" y2="228.1" stroke="#6b6b6b" stroke-width="0.9" />
<text x="151.85" y="230.0" font-size="9" text-anchor="middle" fill="#3a3a3a" stroke="#3a3a3a" stroke-width="0.18" >***</text>
<line x1="169.6" y1="228.1" x2="182.7" y2="228.1" stroke="#6b6b6b" stroke-width="0.9" />
<text x="176.14999999999998" y="230.0" font-size="9" text-anchor="middle" fill="#3a3a3a" stroke="#3a3a3a" stroke-width="0.18" >***</text>
<line x1="193.7" y1="228.1" x2="206.9" y2="228.1" stroke="#6b6b6b" stroke-width="0.9" />
<text x="200.3" y="230.0" font-size="9" text-anchor="middle" fill="#3a3a3a" stroke="#3a3a3a" stroke-width="0.18" >*</text>
<text x="153.4" y="335" font-size="8.3" text-anchor="middle" fill="#231f20" stroke="#231f20" stroke-width="0.18" >p53</text>
<text x="176" y="335" font-size="8.3" text-anchor="middle" fill="#231f20" stroke="#231f20" stroke-width="0.18" >SKA3</text>
<text x="202.5" y="335" font-size="8.3" text-anchor="middle" fill="#231f20" stroke="#231f20" stroke-width="0.18" >HIF-1α</text>
<text x="282.5" y="222.8" font-size="8.3" text-anchor="end" font-style="italic" fill="#231f20" stroke="#231f20" stroke-width="0.18" >A549</text>
<text transform="translate(290.3,229.4) rotate(-44)" font-size="8.1" text-anchor="start" fill="#231f20" stroke="#231f20" stroke-width="0.18">vector</text>
<text transform="translate(307.9,228.8) rotate(-45)" font-size="8.1" text-anchor="start" fill="#231f20" stroke="#231f20" stroke-width="0.18">oe-p53</text>
<rect x="284.3" y="231.2" width="31.2" height="12.3" fill="#eeeeee" stroke="#8e8e8e" stroke-width="0.9" />
<text x="281.9" y="240.2" font-size="8.3" text-anchor="end" fill="#231f20" stroke="#231f20" stroke-width="0.18" >p53</text>
<text x="317.3" y="240.39999999999998" font-size="8.3" text-anchor="start" fill="#231f20" stroke="#231f20" stroke-width="0.18" >53 kDa</text>
<rect x="284.3" y="246.8" width="31.2" height="12.3" fill="#ececec" stroke="#8e8e8e" stroke-width="0.9" />
<text x="281.9" y="255.8" font-size="8.3" text-anchor="end" fill="#231f20" stroke="#231f20" stroke-width="0.18" >SKA3</text>
<text x="317.3" y="256.0" font-size="8.3" text-anchor="start" fill="#231f20" stroke="#231f20" stroke-width="0.18" >43 kDa</text>
<rect x="284.3" y="262.5" width="31.2" height="12.3" fill="#e9e9e9" stroke="#8e8e8e" stroke-width="0.9" />
<text x="281.9" y="271.5" font-size="8.3" text-anchor="end" fill="#231f20" stroke="#231f20" stroke-width="0.18" >PHD2</text>
<text x="317.3" y="271.7" font-size="8.3" text-anchor="start" fill="#231f20" stroke="#231f20" stroke-width="0.18" >46 kDa</text>
<rect x="284.3" y="278.2" width="31.2" height="12.3" fill="#ececec" stroke="#8e8e8e" stroke-width="0.9" />
<text x="281.9" y="287.2" font-size="8.3" text-anchor="end" fill="#231f20" stroke="#231f20" stroke-width="0.18" >OH-HIF-1α</text>
<text x="317.3" y="287.4" font-size="8.3" text-anchor="start" fill="#231f20" stroke="#231f20" stroke-width="0.18" >120 kDa</text>
<rect x="284.3" y="294.1" width="31.2" height="12.3" fill="#efefef" stroke="#8e8e8e" stroke-width="0.9" />
<text x="281.9" y="303.1" font-size="8.3" text-anchor="end" fill="#231f20" stroke="#231f20" stroke-width="0.18" >HIF-1α</text>
<text x="317.3" y="303.3" font-size="8.3" text-anchor="start" fill="#231f20" stroke="#231f20" stroke-width="0.18" >120 kDa</text>
<rect x="284.3" y="310.0" width="31.2" height="12.3" fill="#e8e8e8" stroke="#8e8e8e" stroke-width="0.9" />
<text x="281.9" y="319.0" font-size="8.3" text-anchor="end" fill="#231f20" stroke="#231f20" stroke-width="0.18" >VHL</text>
<text x="317.3" y="319.2" font-size="8.3" text-anchor="start" fill="#231f20" stroke="#231f20" stroke-width="0.18" >24 kDa</text>
<rect x="284.3" y="325.8" width="31.2" height="12.3" fill="#dedede" stroke="#8e8e8e" stroke-width="0.9" />
<text x="281.9" y="334.8" font-size="8.3" text-anchor="end" fill="#231f20" stroke="#231f20" stroke-width="0.18" >β-actin</text>
<text x="317.3" y="335.0" font-size="8.3" text-anchor="start" fill="#231f20" stroke="#231f20" stroke-width="0.18" >42 kDa</text>
<rect x="290" y="236.6" width="5" height="1.0" rx="1" fill="#111" opacity="0.08" filter="url(#blur1)"/>
<rect x="301.2" y="234.9" width="12.4" height="2.9" rx="1.3" fill="#111" opacity="1.0" filter="url(#blur1)"/>
<rect x="285.6" y="250.6" width="13.6" height="3.8" rx="1.5" fill="#111" opacity="1.0" filter="url(#blur1)"/>
<rect x="286" y="256.8" width="12" height="1.6" rx="1" fill="#111" opacity="0.25" filter="url(#blur2)"/>
<rect x="301.5" y="252.4" width="10" height="1.4" rx="1" fill="#111" opacity="0.14" filter="url(#blur2)"/>
<rect x="285.8" y="267.3" width="12.8" height="2.4" rx="1.1" fill="#111" opacity="1.0" filter="url(#blur1)"/>
<rect x="300.9" y="267.3" width="12.9" height="2.4" rx="1.1" fill="#111" opacity="1.0" filter="url(#blur1)"/>
<rect x="286.5" y="284.2" width="10.5" height="1.8" rx="1" fill="#111" opacity="0.32" filter="url(#blur2)"/>
<rect x="301.0" y="282.8" width="11.8" height="4.8" rx="2.2" fill="#111" opacity="1.0" filter="url(#blur1)"/>
<rect x="285.9" y="298.4" width="11.6" height="3.1" rx="1.3" fill="#111" opacity="1.0" filter="url(#blur1)"/>
<rect x="303" y="299.3" width="3" height="1.5" rx="1" fill="#111" opacity="0.1" filter="url(#blur2)"/>
<rect x="309" y="299.3" width="3" height="1.5" rx="1" fill="#111" opacity="0.1" filter="url(#blur2)"/>
<rect x="285.9" y="314.6" width="12.4" height="3.9" rx="1.9" fill="#111" opacity="1.0" filter="url(#blur1)"/>
<rect x="300.7" y="314.7" width="12.5" height="3.6" rx="1.8" fill="#111" opacity="1.0" filter="url(#blur1)"/>
<rect x="285.9" y="330.5" width="12.8" height="3.0" rx="1.3" fill="#111" opacity="1.0" filter="url(#blur1)"/>
<rect x="301.0" y="330.4" width="12.9" height="3.2" rx="1.4" fill="#111" opacity="1.0" filter="url(#blur1)"/>
<text x="425.9" y="223.3" font-size="8.3" text-anchor="end" font-style="italic" fill="#231f20" stroke="#231f20" stroke-width="0.18" >A549-LMs</text>
<text transform="translate(429.4,229.4) rotate(-45)" font-size="8.1" text-anchor="start" fill="#231f20" stroke="#231f20" stroke-width="0.18">vector</text>
<text transform="translate(448.4,228.8) rotate(-46)" font-size="8.1" text-anchor="start" fill="#231f20" stroke="#231f20" stroke-width="0.18">oe-p53</text>
<rect x="423.2" y="231.2" width="31.4" height="12.3" fill="#f0f0f0" stroke="#8e8e8e" stroke-width="0.9" />
<text x="420.0" y="240.2" font-size="8.3" text-anchor="end" fill="#231f20" stroke="#231f20" stroke-width="0.18" >p53</text>
<text x="456.9" y="240.39999999999998" font-size="8.3" text-anchor="start" fill="#231f20" stroke="#231f20" stroke-width="0.18" >53 kDa</text>
<rect x="423.2" y="246.8" width="31.4" height="12.3" fill="#efefef" stroke="#8e8e8e" stroke-width="0.9" />
<text x="420.0" y="255.8" font-size="8.3" text-anchor="end" fill="#231f20" stroke="#231f20" stroke-width="0.18" >SKA3</text>
<text x="456.9" y="256.0" font-size="8.3" text-anchor="start" fill="#231f20" stroke="#231f20" stroke-width="0.18" >43 kDa</text>
<rect x="423.2" y="262.5" width="31.4" height="12.3" fill="#ededed" stroke="#8e8e8e" stroke-width="0.9" />
<text x="420.0" y="271.5" font-size="8.3" text-anchor="end" fill="#231f20" stroke="#231f20" stroke-width="0.18" >PHD2</text>
<text x="456.9" y="271.7" font-size="8.3" text-anchor="start" fill="#231f20" stroke="#231f20" stroke-width="0.18" >46 kDa</text>
<rect x="423.2" y="278.2" width="31.4" height="12.3" fill="#ededed" stroke="#8e8e8e" stroke-width="0.9" />
<text x="420.0" y="287.2" font-size="8.3" text-anchor="end" fill="#231f20" stroke="#231f20" stroke-width="0.18" >OH-HIF-1α</text>
<text x="456.9" y="287.4" font-size="8.3" text-anchor="start" fill="#231f20" stroke="#231f20" stroke-width="0.18" >120 kDa</text>
<rect x="423.2" y="294.1" width="31.4" height="12.3" fill="#f0f0f0" stroke="#8e8e8e" stroke-width="0.9" />
<text x="420.0" y="303.1" font-size="8.3" text-anchor="end" fill="#231f20" stroke="#231f20" stroke-width="0.18" >HIF-1α</text>
<text x="456.9" y="303.3" font-size="8.3" text-anchor="start" fill="#231f20" stroke="#231f20" stroke-width="0.18" >120 kDa</text>
<rect x="423.2" y="310.0" width="31.4" height="12.3" fill="#ececec" stroke="#8e8e8e" stroke-width="0.9" />
<text x="420.0" y="319.0" font-size="8.3" text-anchor="end" fill="#231f20" stroke="#231f20" stroke-width="0.18" >VHL</text>
<text x="456.9" y="319.2" font-size="8.3" text-anchor="start" fill="#231f20" stroke="#231f20" stroke-width="0.18" >24 kDa</text>
<rect x="423.2" y="325.8" width="31.4" height="12.3" fill="#f1f1f1" stroke="#8e8e8e" stroke-width="0.9" />
<text x="420.0" y="334.8" font-size="8.3" text-anchor="end" fill="#231f20" stroke="#231f20" stroke-width="0.18" >β-actin</text>
<text x="456.9" y="335.0" font-size="8.3" text-anchor="start" fill="#231f20" stroke="#231f20" stroke-width="0.18" >42 kDa</text>
<rect x="425.5" y="237.4" width="11" height="1.2" rx="1" fill="#111" opacity="0.14" filter="url(#blur1)"/>
<rect x="439.1" y="234.4" width="13.2" height="3.5" rx="1.6" fill="#111" opacity="1.0" filter="url(#blur1)"/>
<rect x="425.7" y="251.7" width="11.5" height="2.6" rx="1.1" fill="#111" opacity="1.0" filter="url(#blur1)"/>
<rect x="425.7" y="255.3" width="11" height="2.5" rx="1" fill="#111" opacity="0.16" filter="url(#blur2)"/>
<rect x="441" y="252.2" width="11" height="1.3" rx="1" fill="#111" opacity="0.14" filter="url(#blur2)"/>
<rect x="425.3" y="267.5" width="11.9" height="1.8" rx="0.8" fill="#111" opacity="0.95" filter="url(#blur1)"/>
<rect x="439.9" y="267.3" width="12.8" height="2.3" rx="1" fill="#111" opacity="1.0" filter="url(#blur1)"/>
<rect x="425.0" y="282.4" width="8.4" height="3.4" rx="1.5" fill="#111" opacity="1.0" filter="url(#blur1)"/>
<rect x="432" y="283.5" width="3" height="1.4" rx="1" fill="#111" opacity="0.4" filter="url(#blur1)"/>
<rect x="440.1" y="282.4" width="12.8" height="3.4" rx="1.5" fill="#111" opacity="1.0" filter="url(#blur1)"/>
<rect x="424.9" y="297.7" width="11.0" height="4.2" rx="1.9" fill="#111" opacity="1.0" filter="url(#blur1)"/>
<rect x="441.5" y="298.8" width="3" height="2" rx="1" fill="#111" opacity="0.12" filter="url(#blur2)"/>
<rect x="447.5" y="298.8" width="3" height="2" rx="1" fill="#111" opacity="0.12" filter="url(#blur2)"/>
<rect x="424.9" y="314.6" width="12.5" height="3.6" rx="1.7" fill="#111" opacity="1.0" filter="url(#blur1)"/>
<rect x="441.2" y="314.6" width="12.0" height="3.6" rx="1.7" fill="#111" opacity="1.0" filter="url(#blur1)"/>
<rect x="424.9" y="331.0" width="12.2" height="2.5" rx="1.1" fill="#111" opacity="1.0" filter="url(#blur1)"/>
<rect x="441.7" y="330.6" width="11.0" height="2.3" rx="1.0" fill="#111" opacity="1.0" filter="url(#blur1)"/>
<text x="595.7" y="234.2" font-size="8.3" text-anchor="middle" fill="#231f20" stroke="#231f20" stroke-width="0.18" >Predicted p53 Binding Motif</text>
<text x="596" y="244.2" font-size="8.3" text-anchor="middle" fill="#231f20" stroke="#231f20" stroke-width="0.18" >in the SKA3 Promoter</text>
<rect x="528.7" y="249.3" width="135.4" height="69.2" fill="#fff" stroke="#3c3c3c" stroke-width="0.9" />
<text transform="translate(533.22,301.70) scale(11.343,22.899)" font-size="1" font-weight="bold" fill="#3c9c48">A</text>
<text transform="translate(533.05,311.86) scale(11.259,13.662)" font-size="1" font-weight="bold" fill="#e2aa33">G</text>
<text transform="translate(540.99,310.69) scale(12.672,70.845)" font-size="1" font-weight="bold" fill="#2f60a8">C</text>
<text transform="translate(549.69,305.60) scale(12.388,29.565)" font-size="1" font-weight="bold" fill="#3c9c48">A</text>
<text transform="translate(549.86,311.30) scale(14.068,7.681)" font-size="1" font-weight="bold" fill="#d2313a">T</text>
<text transform="translate(549.69,312.30) scale(12.388,1.304)" font-size="1" font-weight="bold" fill="#3c9c48">A</text>
<text transform="translate(558.06,303.00) scale(14.237,28.841)" font-size="1" font-weight="bold" fill="#d2313a">T</text>
<text transform="translate(557.89,312.00) scale(12.537,12.464)" font-size="1" font-weight="bold" fill="#3c9c48">A</text>
<text transform="translate(566.53,311.19) scale(11.852,81.408)" font-size="1" font-weight="bold" fill="#e2aa33">G</text>
<text transform="translate(574.52,301.35) scale(12.061,14.789)" font-size="1" font-weight="bold" fill="#2f60a8">C</text>
<text transform="translate(574.87,311.50) scale(13.390,13.913)" font-size="1" font-weight="bold" fill="#d2313a">T</text>
<text transform="translate(574.71,312.60) scale(11.791,1.304)" font-size="1" font-weight="bold" fill="#3c9c48">A</text>
<text transform="translate(582.41,306.53) scale(12.366,17.183)" font-size="1" font-weight="bold" fill="#2f60a8">C</text>
<text transform="translate(582.76,309.30) scale(13.729,2.899)" font-size="1" font-weight="bold" fill="#d2313a">T</text>
<text transform="translate(582.60,311.60) scale(12.090,3.333)" font-size="1" font-weight="bold" fill="#3c9c48">A</text>
<text transform="translate(582.42,312.39) scale(12.000,0.986)" font-size="1" font-weight="bold" fill="#e2aa33">G</text>
<text transform="translate(590.49,306.44) scale(12.672,26.056)" font-size="1" font-weight="bold" fill="#2f60a8">C</text>
<text transform="translate(590.86,309.30) scale(14.068,2.899)" font-size="1" font-weight="bold" fill="#d2313a">T</text>
<text transform="translate(590.69,311.60) scale(12.388,3.333)" font-size="1" font-weight="bold" fill="#3c9c48">A</text>
<text transform="translate(590.51,312.39) scale(12.296,0.986)" font-size="1" font-weight="bold" fill="#e2aa33">G</text>
<text transform="translate(599.42,307.10) scale(11.194,15.217)" font-size="1" font-weight="bold" fill="#3c9c48">A</text>
<text transform="translate(599.57,308.60) scale(12.712,1.739)" font-size="1" font-weight="bold" fill="#d2313a">T</text>
<text transform="translate(599.24,310.47) scale(11.450,2.676)" font-size="1" font-weight="bold" fill="#2f60a8">C</text>
<text transform="translate(599.26,311.98) scale(11.111,1.972)" font-size="1" font-weight="bold" fill="#e2aa33">G</text>
<text transform="translate(607.34,302.16) scale(11.556,14.225)" font-size="1" font-weight="bold" fill="#e2aa33">G</text>
<text transform="translate(607.51,311.10) scale(11.642,12.029)" font-size="1" font-weight="bold" fill="#3c9c48">A</text>
<text transform="translate(607.67,311.80) scale(13.220,0.870)" font-size="1" font-weight="bold" fill="#d2313a">T</text>
<text transform="translate(607.32,312.39) scale(11.908,0.845)" font-size="1" font-weight="bold" fill="#2f60a8">C</text>
<text transform="translate(615.71,302.70) scale(11.791,29.710)" font-size="1" font-weight="bold" fill="#3c9c48">A</text>
<text transform="translate(615.53,312.17) scale(11.704,13.099)" font-size="1" font-weight="bold" fill="#e2aa33">G</text>
<text transform="translate(623.49,311.98) scale(12.672,81.549)" font-size="1" font-weight="bold" fill="#2f60a8">C</text>
<text transform="translate(632.51,305.80) scale(11.493,40.870)" font-size="1" font-weight="bold" fill="#3c9c48">A</text>
<text transform="translate(632.67,311.30) scale(13.051,7.536)" font-size="1" font-weight="bold" fill="#d2313a">T</text>
<text transform="translate(632.33,312.29) scale(11.756,1.268)" font-size="1" font-weight="bold" fill="#2f60a8">C</text>
<text transform="translate(640.36,305.90) scale(13.898,34.928)" font-size="1" font-weight="bold" fill="#d2313a">T</text>
<text transform="translate(640.19,311.90) scale(12.239,8.261)" font-size="1" font-weight="bold" fill="#3c9c48">A</text>
<text transform="translate(648.31,311.28) scale(12.148,71.690)" font-size="1" font-weight="bold" fill="#e2aa33">G</text>
<text transform="translate(648.49,312.60) scale(12.239,0.870)" font-size="1" font-weight="bold" fill="#3c9c48">A</text>
<text x="68.6" y="386.9" font-size="8.3" text-anchor="middle" font-style="italic" fill="#231f20" stroke="#231f20" stroke-width="0.18" >A549</text>
<text transform="translate(26.4,435.5) rotate(-90)" font-size="8.3" text-anchor="middle" fill="#231f20" stroke="#231f20" stroke-width="0.18">Fold Enrichment</text>
<text transform="translate(36.3,435.5) rotate(-90)" font-size="8.3" text-anchor="middle" fill="#231f20" stroke="#231f20" stroke-width="0.18">(Relative to IgG)</text>
<line x1="58.9" y1="473.9744" x2="58.9" y2="472.2" stroke="#e2504b" stroke-width="0.8" />
<rect x="54.1" y="473.9744" width="9.6" height="9.525599999999997" fill="#dc6a66" stroke="#555" stroke-width="0.5" />
<circle cx="57.8" cy="472.2" r="1.6" fill="none" stroke="#e2504b" stroke-width="0.7" />
<circle cx="58.5" cy="474.6" r="1.6" fill="none" stroke="#e2504b" stroke-width="0.7" />
<line x1="78.4" y1="422.75" x2="78.4" y2="412.544" stroke="#3a56ad" stroke-width="0.8" />
<line x1="78.4" y1="412.544" x2="78.4" y2="412.544" stroke="#3a56ad" stroke-width="0.8" />
<rect x="73.4" y="422.75" width="9.8" height="60.75" fill="#4262a6" stroke="#2a2a2a" stroke-width="0.5" />
<circle cx="78.4" cy="412.544" r="1.6" fill="none" stroke="#3a56ad" stroke-width="0.7" />
<circle cx="79.2" cy="424.20799999999997" r="1.6" fill="none" stroke="#3a56ad" stroke-width="0.7" />
<circle cx="77.5" cy="431.984" r="1.6" fill="none" stroke="#3a56ad" stroke-width="0.7" />
<line x1="48.8" y1="386.0" x2="48.8" y2="483.9" stroke="#231f20" stroke-width="0.9" />
<line x1="48.4" y1="483.5" x2="88.6" y2="483.5" stroke="#231f20" stroke-width="1.0" />
<line x1="46.2" y1="386.3" x2="48.8" y2="386.3" stroke="#231f20" stroke-width="0.8" />
<text x="47.0" y="389.2" font-size="8.3" text-anchor="end" fill="#231f20" stroke="#231f20" stroke-width="0.18" >10</text>
<line x1="46.2" y1="405.74" x2="48.8" y2="405.74" stroke="#231f20" stroke-width="0.8" />
<text x="47.0" y="408.64" font-size="8.3" text-anchor="end" fill="#231f20" stroke="#231f20" stroke-width="0.18" >8</text>
<line x1="46.2" y1="425.18" x2="48.8" y2="425.18" stroke="#231f20" stroke-width="0.8" />
<text x="47.0" y="428.08" font-size="8.3" text-anchor="end" fill="#231f20" stroke="#231f20" stroke-width="0.18" >6</text>
<line x1="46.2" y1="444.62" x2="48.8" y2="444.62" stroke="#231f20" stroke-width="0.8" />
<text x="47.0" y="447.52" font-size="8.3" text-anchor="end" fill="#231f20" stroke="#231f20" stroke-width="0.18" >4</text>
<line x1="46.2" y1="464.06" x2="48.8" y2="464.06" stroke="#231f20" stroke-width="0.8" />
<text x="47.0" y="466.96" font-size="8.3" text-anchor="end" fill="#231f20" stroke="#231f20" stroke-width="0.18" >2</text>
<line x1="46.2" y1="483.5" x2="48.8" y2="483.5" stroke="#231f20" stroke-width="0.8" />
<text x="47.0" y="486.4" font-size="8.3" text-anchor="end" fill="#231f20" stroke="#231f20" stroke-width="0.18" >0</text>
<line x1="58.6" y1="483.5" x2="58.6" y2="485.8" stroke="#231f20" stroke-width="0.8" />
<line x1="78.4" y1="483.5" x2="78.4" y2="485.8" stroke="#231f20" stroke-width="0.8" />
<line x1="58.6" y1="399.3" x2="78.3" y2="399.3" stroke="#444" stroke-width="0.8" />
<text x="68.4" y="401.3" font-size="8.6" text-anchor="middle" fill="#333" stroke="#333" stroke-width="0.18" >***</text>
<text transform="translate(67.2,489.4) rotate(-45)" font-size="7.0" text-anchor="end" fill="#231f20" stroke="#231f20" stroke-width="0.18">Anti-IgG</text>
<text transform="translate(87.4,489.4) rotate(-45)" font-size="7.0" text-anchor="end" fill="#231f20" stroke="#231f20" stroke-width="0.18">Anti-p53</text>
<rect x="141.3" y="386.9" width="108.8" height="99.4" fill="#050505" stroke="none" stroke-width="0.8" />
<clipPath id="gelclip"><rect x="141.3" y="386.9" width="108.8" height="99.4"/></clipPath><g clip-path="url(#gelclip)">
<defs><linearGradient id="lad" x1="0" y1="0" x2="0" y2="1"><stop offset="0.0000" stop-color="rgb(56,56,56)"/><stop offset="0.0305" stop-color="rgb(82,82,82)"/><stop offset="0.0711" stop-color="rgb(115,115,115)"/><stop offset="0.1117" stop-color="rgb(148,148,148)"/><stop offset="0.1523" stop-color="rgb(168,168,168)"/><stop offset="0.1827" stop-color="rgb(184,184,184)"/><stop offset="0.2132" stop-color="rgb(173,173,173)"/><stop offset="0.2437" stop-color="rgb(189,189,189)"/><stop offset="0.2741" stop-color="rgb(209,209,209)"/><stop offset="0.3046" stop-color="rgb(199,199,199)"/><stop offset="0.3299" stop-color="rgb(235,235,235)"/><stop offset="0.3553" stop-color="rgb(255,255,255)"/><stop offset="0.3807" stop-color="rgb(250,250,250)"/><stop offset="0.4010" stop-color="rgb(168,168,168)"/><stop offset="0.4162" stop-color="rgb(153,153,153)"/><stop offset="0.4416" stop-color="rgb(199,199,199)"/><stop offset="0.4670" stop-color="rgb(209,209,209)"/><stop offset="0.4924" stop-color="rgb(168,168,168)"/><stop offset="0.5178" stop-color="rgb(107,107,107)"/><stop offset="0.5431" stop-color="rgb(87,87,87)"/><stop offset="0.5635" stop-color="rgb(107,107,107)"/><stop offset="0.5888" stop-color="rgb(168,168,168)"/><stop offset="0.6193" stop-color="rgb(204,204,204)"/><stop offset="0.6497" stop-color="rgb(214,214,214)"/><stop offset="0.6751" stop-color="rgb(168,168,168)"/><stop offset="0.7005" stop-color="rgb(61,61,61)"/><stop offset="0.7310" stop-color="rgb(18,18,18)"/><stop offset="0.7716" stop-color="rgb(15,15,15)"/><stop offset="0.8020" stop-color="rgb(56,56,56)"/><stop offset="0.8274" stop-color="rgb(138,138,138)"/><stop offset="0.8528" stop-color="rgb(178,178,178)"/><stop offset="0.8883" stop-color="rgb(214,214,214)"/><stop offset="0.9188" stop-color="rgb(199,199,199)"/><stop offset="0.9442" stop-color="rgb(122,122,122)"/><stop offset="0.9695" stop-color="rgb(41,41,41)"/><stop offset="0.9949" stop-color="rgb(13,13,13)"/></linearGradient><linearGradient id="inp" x1="0" y1="0" x2="0" y2="1"><stop offset="0" stop-color="#1a1a1a"/><stop offset="0.6" stop-color="#111"/><stop offset="1" stop-color="#0a0a0a"/></linearGradient></defs>
<rect x="149.0" y="387.0" width="20.2" height="98.5" fill="url(#lad)" filter="url(#blur2)"/>
<circle cx="153" cy="398" r="2.64" fill="#000" opacity="0.175" filter="url(#blur2)"/>
<circle cx="162" cy="396" r="3.0" fill="#000" opacity="0.15" filter="url(#blur2)"/>
<circle cx="157" cy="406" r="2.4" fill="#000" opacity="0.15" filter="url(#blur2)"/>
<circle cx="165" cy="409" r="2.4" fill="#000" opacity="0.125" filter="url(#blur2)"/>
<circle cx="152" cy="416" r="2.16" fill="#000" opacity="0.125" filter="url(#blur2)"/>
<circle cx="160" cy="413" r="2.64" fill="#000" opacity="0.1" filter="url(#blur2)"/>
<circle cx="156" cy="431" r="2.4" fill="#000" opacity="0.125" filter="url(#blur2)"/>
<circle cx="164" cy="434" r="2.16" fill="#000" opacity="0.1" filter="url(#blur2)"/>
<circle cx="153" cy="449" r="2.16" fill="#000" opacity="0.1" filter="url(#blur2)"/>
<circle cx="162" cy="452" r="2.4" fill="#000" opacity="0.1" filter="url(#blur2)"/>
<circle cx="157" cy="474" r="2.4" fill="#000" opacity="0.1" filter="url(#blur2)"/>
<circle cx="165" cy="471" r="2.16" fill="#000" opacity="0.1" filter="url(#blur2)"/>
<circle cx="151" cy="428" r="1.7999999999999998" fill="#000" opacity="0.15" filter="url(#blur2)"/>
<rect x="176" y="392" width="18" height="76" fill="url(#inp)" filter="url(#blur3)" opacity="0.3"/>
<rect x="175.0" y="472.2" width="20.2" height="8.2" rx="4" fill="#7e7e7e" filter="url(#blur3)"/>
<rect x="227.6" y="472.9" width="19.6" height="7.2" rx="3.6" fill="#646464" filter="url(#blur3)"/>
<circle cx="181.2" cy="403.5" r="0.7" fill="#ddd" stroke="none" stroke-width="0.8" />
</g>
<text x="140.3" y="453.8" font-size="8.5" text-anchor="end" fill="#231f20" stroke="#231f20" stroke-width="0.18" >200bp</text>
<text x="140.3" y="477.8" font-size="8.5" text-anchor="end" fill="#231f20" stroke="#231f20" stroke-width="0.18" >100bp</text>
<text x="185.2" y="500.3" font-size="8.3" text-anchor="middle" fill="#231f20" stroke="#231f20" stroke-width="0.18" >Input</text>
<text x="209.4" y="500.3" font-size="8.3" text-anchor="middle" fill="#231f20" stroke="#231f20" stroke-width="0.18" >IgG</text>
<text x="238.4" y="500.3" font-size="8.3" text-anchor="middle" fill="#231f20" stroke="#231f20" stroke-width="0.18" >Anti-p53</text>
<text x="273.9" y="421.5" font-size="8.3" text-anchor="start" font-weight="bold" fill="#231f20" stroke="#231f20" stroke-width="0.18" >SKA3 promoter (</text>
<text x="343.1" y="421.5" font-size="6.8" text-anchor="start" font-weight="bold" fill="#231f20" stroke="#231f20" stroke-width="0.18" >-1291</text>
<line x1="361.0" y1="420.1" x2="373.6" y2="420.1" stroke="#222" stroke-width="0.75" />
<text x="377.2" y="421.5" font-size="6.8" text-anchor="start" font-weight="bold" fill="#231f20" stroke="#231f20" stroke-width="0.18" >-1277)</text>
<text x="273.7" y="431.9" font-size="8.4" text-anchor="start" font-weight="bold" fill="#231f20" stroke="#231f20" stroke-width="0.18" >WT</text>
<text x="292.0" y="432.0" font-size="8.3" text-anchor="start" fill="#e8574a" stroke="#e8574a" stroke-width="0.18" >....</text>
<text x="301.2" y="432.0" font-size="8.3" text-anchor="start" fill="#e8782f" stroke="#e8782f" stroke-width="0.18" >GCCTGCACCAACATA</text>
<text x="387.2" y="432.0" font-size="8.3" text-anchor="start" fill="#ee8a7a" stroke="#ee8a7a" stroke-width="0.18" >....</text>
<text x="274.1" y="462.3" font-size="8.2" text-anchor="start" font-weight="bold" fill="#231f20" stroke="#231f20" stroke-width="0.18" >Mut</text>
<text x="293.7" y="462.3" font-size="8.3" text-anchor="start" fill="#e8574a" stroke="#e8574a" stroke-width="0.18" >....</text>
<text x="303.2" y="462.3" font-size="8.3" text-anchor="start" fill="#de3a3a" stroke="#de3a3a" stroke-width="0.18" >TAAGTACAACCACGC</text>
<text x="388.2" y="462.3" font-size="8.3" text-anchor="start" fill="#f0a49c" stroke="#f0a49c" stroke-width="0.18" >....</text>
<line x1="303.5" y1="433.8" x2="314.5" y2="453.8" stroke="#d8302c" stroke-width="1.25" />
<line x1="384.7" y1="433.7" x2="372.6" y2="453.6" stroke="#d8302c" stroke-width="1.25" />
<circle cx="426.5" cy="385.7" r="3.6" fill="none" stroke="#e4693c" stroke-width="0.95" />
<text x="432.6" y="388.8" font-size="8.3" text-anchor="start" fill="#231f20" stroke="#231f20" stroke-width="0.18" >vector</text>
<circle cx="471.7" cy="385.7" r="3.6" fill="none" stroke="#4b5bb0" stroke-width="0.95" />
<text x="477.6" y="388.8" font-size="8.3" text-anchor="start" fill="#231f20" stroke="#231f20" stroke-width="0.18" >oe-p53</text>
<text transform="translate(430.0,444.0) rotate(-90)" font-size="8.3" text-anchor="middle" fill="#231f20" stroke="#231f20" stroke-width="0.18">Luciferasse Activity of</text>
<text transform="translate(439.8,444.0) rotate(-90)" font-size="8.3" text-anchor="middle" fill="#231f20" stroke="#231f20" stroke-width="0.18">SKA3 Promotor</text>
<line x1="462.45" y1="424.4585" x2="462.45" y2="421.02500000000003" stroke="#e2504b" stroke-width="0.8" />
<rect x="458.3" y="424.4585" width="8.3" height="70.14150000000001" fill="#dc6a66" stroke="#555" stroke-width="0.5" />
<circle cx="462.6" cy="421.02500000000003" r="1.6" fill="none" stroke="#e2504b" stroke-width="0.7" />
<circle cx="462.8" cy="424.949" r="1.6" fill="none" stroke="#e2504b" stroke-width="0.7" />
<line x1="472.45" y1="486.99725" x2="472.45" y2="486.01625" stroke="#3a56ad" stroke-width="0.8" />
<rect x="468.3" y="486.99725" width="8.3" height="7.6027500000000146" fill="#4262a6" stroke="#2a2a2a" stroke-width="0.5" />
<circle cx="472.8" cy="485.771" r="1.6" fill="none" stroke="#3a56ad" stroke-width="0.7" />
<line x1="487.34999999999997" y1="429.36350000000004" x2="487.34999999999997" y2="421.02500000000003" stroke="#e2504b" stroke-width="0.8" />
<rect x="483.2" y="429.36350000000004" width="8.3" height="65.23649999999998" fill="#dc6a66" stroke="#555" stroke-width="0.5" />
<circle cx="487.4" cy="421.02500000000003" r="1.6" fill="none" stroke="#e2504b" stroke-width="0.7" />
<circle cx="487.6" cy="430.83500000000004" r="1.6" fill="none" stroke="#e2504b" stroke-width="0.7" />
<circle cx="487.6" cy="437.2115" r="1.6" fill="none" stroke="#e2504b" stroke-width="0.7" />
<line x1="497.34999999999997" y1="458.7935" x2="497.34999999999997" y2="455.36" stroke="#3a56ad" stroke-width="0.8" />
<rect x="493.2" y="458.7935" width="8.3" height="35.80650000000003" fill="#4262a6" stroke="#2a2a2a" stroke-width="0.5" />
<circle cx="497.3" cy="455.36" r="1.6" fill="none" stroke="#3a56ad" stroke-width="0.7" />
<circle cx="497.6" cy="459.284" r="1.6" fill="none" stroke="#3a56ad" stroke-width="0.7" />
<line x1="455.5" y1="396.2" x2="455.5" y2="495.0" stroke="#231f20" stroke-width="0.9" />
<line x1="455.1" y1="494.6" x2="505" y2="494.6" stroke="#231f20" stroke-width="1.0" />
<line x1="452.9" y1="396.5" x2="455.5" y2="396.5" stroke="#231f20" stroke-width="0.8" />
<text x="452.6" y="399.4" font-size="8.3" text-anchor="end" fill="#231f20" stroke="#231f20" stroke-width="0.18" >20</text>
<line x1="452.9" y1="421.02500000000003" x2="455.5" y2="421.02500000000003" stroke="#231f20" stroke-width="0.8" />
<text x="452.6" y="423.925" font-size="8.3" text-anchor="end" fill="#231f20" stroke="#231f20" stroke-width="0.18" >15</text>
<line x1="452.9" y1="445.55" x2="455.5" y2="445.55" stroke="#231f20" stroke-width="0.8" />
<text x="452.6" y="448.45" font-size="8.3" text-anchor="end" fill="#231f20" stroke="#231f20" stroke-width="0.18" >10</text>
<line x1="452.9" y1="470.07500000000005" x2="455.5" y2="470.07500000000005" stroke="#231f20" stroke-width="0.8" />
<text x="452.6" y="472.975" font-size="8.3" text-anchor="end" fill="#231f20" stroke="#231f20" stroke-width="0.18" >5</text>
<line x1="452.9" y1="494.6" x2="455.5" y2="494.6" stroke="#231f20" stroke-width="0.8" />
<text x="452.6" y="497.5" font-size="8.3" text-anchor="end" fill="#231f20" stroke="#231f20" stroke-width="0.18" >0</text>
<line x1="461.6" y1="494.6" x2="461.6" y2="496.8" stroke="#231f20" stroke-width="0.8" />
<line x1="473.4" y1="494.6" x2="473.4" y2="496.8" stroke="#231f20" stroke-width="0.8" />
<line x1="486.0" y1="494.6" x2="486.0" y2="496.8" stroke="#231f20" stroke-width="0.8" />
<line x1="498.2" y1="494.6" x2="498.2" y2="496.8" stroke="#231f20" stroke-width="0.8" />
<line x1="462.4" y1="412.0" x2="474.9" y2="412.0" stroke="#6b6b6b" stroke-width="0.8" />
<text x="468.6" y="414.3" font-size="8.8" text-anchor="middle" fill="#3a3a3a" stroke="#3a3a3a" stroke-width="0.18" >***</text>
<line x1="487.5" y1="412.0" x2="500.1" y2="412.0" stroke="#6b6b6b" stroke-width="0.8" />
<text x="493.8" y="414.3" font-size="8.8" text-anchor="middle" fill="#3a3a3a" stroke="#3a3a3a" stroke-width="0.18" >**</text>
<text x="467.3" y="505.3" font-size="8.3" text-anchor="middle" fill="#231f20" stroke="#231f20" stroke-width="0.18" >WT</text>
<text x="493.4" y="505.3" font-size="8.3" text-anchor="middle" fill="#231f20" stroke="#231f20" stroke-width="0.18" >MT</text>
<circle cx="540.0" cy="385.5" r="3.6" fill="none" stroke="#e4693c" stroke-width="0.95" />
<text x="545.5" y="388.7" font-size="8.3" text-anchor="start" fill="#231f20" stroke="#231f20" stroke-width="0.18" >WT</text>
<circle cx="584.8" cy="385.5" r="3.6" fill="none" stroke="#4b5bb0" stroke-width="0.95" />
<text x="590.8" y="388.7" font-size="8.3" text-anchor="start" fill="#231f20" stroke="#231f20" stroke-width="0.18" >MT</text>
<text transform="translate(543.1,443.0) rotate(-90)" font-size="8.3" text-anchor="middle" fill="#231f20" stroke="#231f20" stroke-width="0.18">Relative Luciferasse Activity</text>
<text transform="translate(552.6,468.6) rotate(-90)" font-size="8.0" text-anchor="start" fill="#555" stroke="#555" stroke-width="0.18">(</text>
<text transform="translate(552.6,462.4) rotate(-90)" font-size="8.2" text-anchor="start" fill="#231f20" stroke="#231f20" stroke-width="0.18">Fluc/Rluc</text>
<text transform="translate(552.6,425.6) rotate(-90)" font-size="8.0" text-anchor="start" fill="#555" stroke="#555" stroke-width="0.18">)</text>
<line x1="571.35" y1="470.28" x2="571.35" y2="469.05899999999997" stroke="#e2504b" stroke-width="0.8" />
<rect x="567.0" y="470.28" width="8.7" height="24.420000000000016" fill="#dc6a66" stroke="#555" stroke-width="0.5" />
<circle cx="571.3" cy="469.05899999999997" r="1.9" fill="none" stroke="#e2504b" stroke-width="0.8" />
<line x1="582.45" y1="428.76599999999996" x2="582.45" y2="425.10299999999995" stroke="#3a56ad" stroke-width="0.8" />
<rect x="578.1" y="428.76599999999996" width="8.7" height="65.93400000000003" fill="#4262a6" stroke="#2a2a2a" stroke-width="0.5" />
<circle cx="582.5" cy="425.10299999999995" r="1.9" fill="none" stroke="#3a56ad" stroke-width="0.8" />
<circle cx="582.2" cy="428.2776" r="1.9" fill="none" stroke="#3a56ad" stroke-width="0.8" />
<circle cx="581.8" cy="431.20799999999997" r="1.9" fill="none" stroke="#3a56ad" stroke-width="0.8" />
<line x1="598.0500000000001" y1="462.954" x2="598.0500000000001" y2="462.4656" stroke="#e2504b" stroke-width="0.8" />
<rect x="593.7" y="462.954" width="8.7" height="31.74599999999998" fill="#dc6a66" stroke="#555" stroke-width="0.5" />
<circle cx="598.0" cy="462.4656" r="1.9" fill="none" stroke="#e2504b" stroke-width="0.8" />
<line x1="609.65" y1="430.4754" x2="609.65" y2="428.2776" stroke="#3a56ad" stroke-width="0.8" />
<rect x="605.3" y="430.4754" width="8.7" height="64.22460000000001" fill="#4262a6" stroke="#2a2a2a" stroke-width="0.5" />
<circle cx="609.6" cy="428.2776" r="1.9" fill="none" stroke="#3a56ad" stroke-width="0.8" />
<circle cx="609.4" cy="429.98699999999997" r="1.9" fill="none" stroke="#3a56ad" stroke-width="0.8" />
<line x1="625.25" y1="440.976" x2="625.25" y2="439.2666" stroke="#e2504b" stroke-width="0.8" />
<rect x="620.9" y="440.976" width="8.7" height="53.72399999999999" fill="#dc6a66" stroke="#555" stroke-width="0.5" />
<circle cx="625.3" cy="439.2666" r="1.9" fill="none" stroke="#e2504b" stroke-width="0.8" />
<circle cx="625.3" cy="440.976" r="1.9" fill="none" stroke="#e2504b" stroke-width="0.8" />
<line x1="636.35" y1="429.4986" x2="636.35" y2="428.2776" stroke="#3a56ad" stroke-width="0.8" />
<rect x="632.0" y="429.4986" width="8.7" height="65.20139999999998" fill="#4262a6" stroke="#2a2a2a" stroke-width="0.5" />
<circle cx="636.3" cy="428.2776" r="1.9" fill="none" stroke="#3a56ad" stroke-width="0.8" />
<circle cx="636.5" cy="429.2544" r="1.9" fill="none" stroke="#3a56ad" stroke-width="0.8" />
<line x1="652.65" y1="431.20799999999997" x2="652.65" y2="429.98699999999997" stroke="#e2504b" stroke-width="0.8" />
<rect x="648.3" y="431.20799999999997" width="8.7" height="63.49200000000002" fill="#dc6a66" stroke="#555" stroke-width="0.5" />
<circle cx="652.6" cy="429.98699999999997" r="1.9" fill="none" stroke="#e2504b" stroke-width="0.8" />
<circle cx="652.9" cy="430.71959999999996" r="1.9" fill="none" stroke="#e2504b" stroke-width="0.8" />
<line x1="663.5500000000001" y1="429.4986" x2="663.5500000000001" y2="428.76599999999996" stroke="#3a56ad" stroke-width="0.8" />
<rect x="659.2" y="429.4986" width="8.7" height="65.20139999999998" fill="#4262a6" stroke="#2a2a2a" stroke-width="0.5" />
<circle cx="663.6" cy="428.76599999999996" r="1.9" fill="none" stroke="#3a56ad" stroke-width="0.8" />
<line x1="564.4" y1="396.8" x2="564.4" y2="495.1" stroke="#231f20" stroke-width="0.9" />
<line x1="564.0" y1="494.7" x2="671.6" y2="494.7" stroke="#231f20" stroke-width="1.0" />
<line x1="561.8" y1="397.02" x2="564.4" y2="397.02" stroke="#231f20" stroke-width="0.8" />
<text x="561.3" y="399.91999999999996" font-size="8.3" text-anchor="end" fill="#231f20" stroke="#231f20" stroke-width="0.18" >4</text>
<line x1="561.8" y1="421.44" x2="564.4" y2="421.44" stroke="#231f20" stroke-width="0.8" />
<text x="561.3" y="424.34" font-size="8.3" text-anchor="end" fill="#231f20" stroke="#231f20" stroke-width="0.18" >3</text>
<line x1="561.8" y1="445.86" x2="564.4" y2="445.86" stroke="#231f20" stroke-width="0.8" />
<text x="561.3" y="448.76" font-size="8.3" text-anchor="end" fill="#231f20" stroke="#231f20" stroke-width="0.18" >2</text>
<line x1="561.8" y1="470.28" x2="564.4" y2="470.28" stroke="#231f20" stroke-width="0.8" />
<text x="561.3" y="473.17999999999995" font-size="8.3" text-anchor="end" fill="#231f20" stroke="#231f20" stroke-width="0.18" >1</text>
<line x1="561.8" y1="494.7" x2="564.4" y2="494.7" stroke="#231f20" stroke-width="0.8" />
<text x="561.3" y="497.59999999999997" font-size="8.3" text-anchor="end" fill="#231f20" stroke="#231f20" stroke-width="0.18" >0</text>
<line x1="577.0" y1="494.7" x2="577.0" y2="496.9" stroke="#231f20" stroke-width="0.8" />
<line x1="603.9" y1="494.7" x2="603.9" y2="496.9" stroke="#231f20" stroke-width="0.8" />
<line x1="630.9" y1="494.7" x2="630.9" y2="496.9" stroke="#231f20" stroke-width="0.8" />
<line x1="658.0" y1="494.7" x2="658.0" y2="496.9" stroke="#231f20" stroke-width="0.8" />
<line x1="569.3" y1="401.3" x2="652.5" y2="401.3" stroke="#8a8080" stroke-width="0.9" />
<text x="609.3" y="403.8" font-size="8.4" text-anchor="middle" fill="#3a3a3a" stroke="#3a3a3a" stroke-width="0.18" >***</text>
<line x1="569.3" y1="408.1" x2="625.8" y2="408.1" stroke="#333" stroke-width="0.9" />
<text x="597.2" y="410.6" font-size="8.4" text-anchor="middle" fill="#3a3a3a" stroke="#3a3a3a" stroke-width="0.18" >***</text>
<line x1="569.3" y1="414.9" x2="600.0" y2="414.9" stroke="#6b6b6b" stroke-width="0.9" />
<text x="584.4" y="417.4" font-size="8.4" text-anchor="middle" fill="#3a3a3a" stroke="#3a3a3a" stroke-width="0.18" >***</text>
<line x1="569.3" y1="421.7" x2="580.9" y2="421.7" stroke="#6b6b6b" stroke-width="0.9" />
<text x="575.0999999999999" y="424.2" font-size="8.4" text-anchor="middle" fill="#3a3a3a" stroke="#3a3a3a" stroke-width="0.18" >***</text>
<line x1="598.3" y1="421.7" x2="610.0" y2="421.7" stroke="#6b6b6b" stroke-width="0.9" />
<text x="604.15" y="424.2" font-size="8.4" text-anchor="middle" fill="#3a3a3a" stroke="#3a3a3a" stroke-width="0.18" >***</text>
<line x1="625.8" y1="421.7" x2="637.8" y2="421.7" stroke="#6b6b6b" stroke-width="0.9" />
<text x="631.8" y="424.2" font-size="8.4" text-anchor="middle" fill="#3a3a3a" stroke="#3a3a3a" stroke-width="0.18" >***</text>
<line x1="652.5" y1="421.7" x2="664.1" y2="421.7" stroke="#6b6b6b" stroke-width="0.9" />
<text x="658.3" y="420.6" font-size="8.0" text-anchor="middle" fill="#333" stroke="#333" stroke-width="0.18" >NS</text>
<text x="551.0" y="505.6" font-size="8.0" text-anchor="start" fill="#231f20" stroke="#231f20" stroke-width="0.18" textLength="17.2" lengthAdjust="spacingAndGlyphs">CoCl</text>
<text x="568.5" y="505.9" font-size="5.4" text-anchor="start" fill="#231f20" stroke="#231f20" stroke-width="0.18" >2</text>
<text x="576.6" y="505.6" font-size="8.3" text-anchor="middle" fill="#231f20" stroke="#231f20" stroke-width="0.18" >0</text>
<text x="604.1" y="505.6" font-size="8.3" text-anchor="middle" fill="#231f20" stroke="#231f20" stroke-width="0.18" >50</text>
<text x="630.9" y="505.6" font-size="8.3" text-anchor="middle" fill="#231f20" stroke="#231f20" stroke-width="0.18" >100</text>
<text x="651.0" y="505.2" font-size="8.0" text-anchor="start" fill="#231f20" stroke="#231f20" stroke-width="0.18" >200</text>
<text x="664.4" y="505.2" font-size="8.0" text-anchor="start" fill="#555" stroke="#555" stroke-width="0.18" >(</text>
<text x="668.3" y="505.2" font-size="8.3" text-anchor="start" fill="#231f20" stroke="#231f20" stroke-width="0.18" textLength="13.6" lengthAdjust="spacingAndGlyphs">μM</text>
<text x="682.8" y="505.2" font-size="8.0" text-anchor="start" fill="#555" stroke="#555" stroke-width="0.18" >)</text>
</svg>
</body></html>
